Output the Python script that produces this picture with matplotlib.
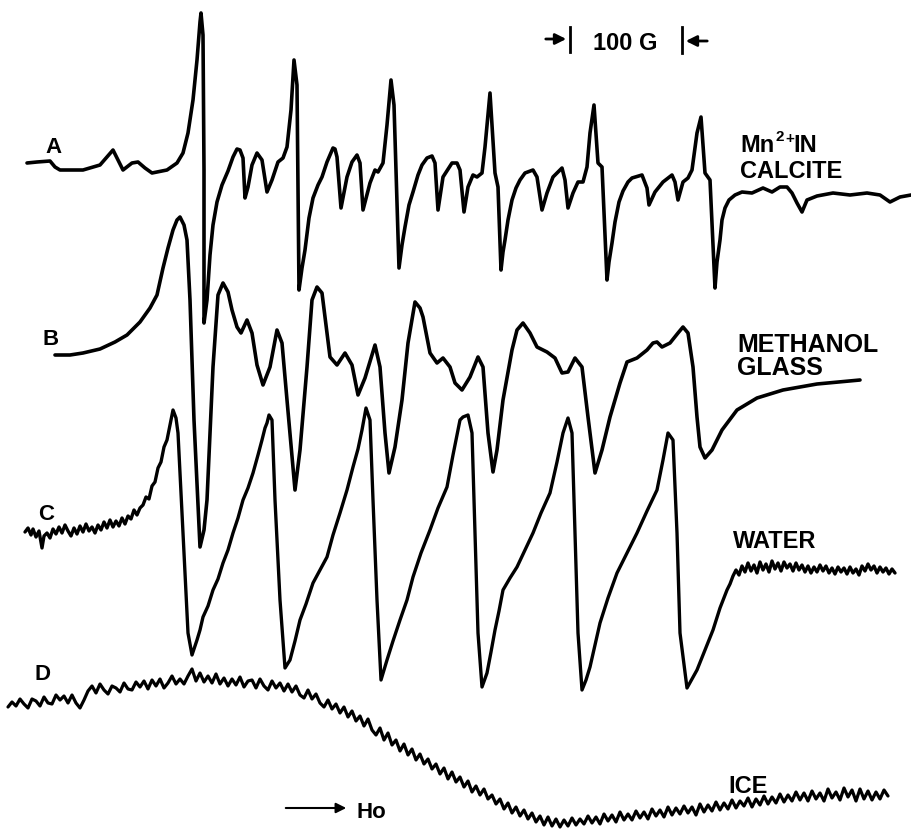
import matplotlib
matplotlib.use("Agg")
import matplotlib.pyplot as plt

# ---- Trace A: Mn2+ in calcite (pixel-read positions of the recorder trace) ----
A_x = [27,37,50,55,60,83,100,107,113,118,123,132,138,145,152,167,177,183,188,193,197,200,201,203,204,204,
       207,210,213,217,222,228,233,237,240,243,245,248,252,257,262,267,272,278,283,287,291,294,297,299,
       302,305,309,313,318,322,327,333,335,337,341,347,352,357,360,363,370,375,378,383,387,391,394,399,
       402,405,409,413,418,422,427,432,435,438,443,452,457,460,464,468,473,477,482,485,490,493,495,498,501,
       503,505,508,512,516,520,525,533,537,542,547,553,562,565,568,573,578,583,587,590,594,598,602,607,
       609,612,615,619,623,628,632,642,647,649,655,663,672,675,678,683,688,692,697,701,705,710,715,
       717,720,722,725,729,735,742,752,763,772,780,787,792,797,802,807,817,833,850,867,880,890,900,911]
A_y = [163,162,161,167,170,170,165,157,150,160,170,163,162,168,173,170,163,153,133,100,60,22,13,35,170,323,
       300,255,225,202,185,171,157,149,150,158,198,187,165,153,160,192,180,162,158,147,110,60,85,290,
       268,250,218,198,185,177,162,148,149,157,208,177,162,155,163,210,183,170,172,163,125,80,105,268,
       245,227,205,192,175,165,158,156,163,210,177,163,163,170,212,187,175,177,173,147,93,140,173,187,270,
       252,240,220,200,188,180,173,170,177,210,193,177,168,180,208,193,182,182,167,133,105,163,167,280,
       262,243,222,202,191,182,178,175,188,205,192,182,175,182,200,182,178,170,133,117,173,180,288,
       262,240,220,208,200,195,192,193,188,192,187,187,193,203,212,200,196,193,195,193,195,202,197,195]

# ---- Trace B: methanol glass ----
B_x = [55,70,83,100,115,127,140,150,157,163,168,173,177,180,184,187,190,194,200,204,207,213,218,223,228,232,237,241,247,252,257,263,270,277,282,287,295,300,307,312,317,322,327,330,337,345,352,358,365,375,380,385,389,395,402,408,415,420,423,430,437,443,450,455,462,470,478,483,488,493,497,503,512,517,523,530,537,547,555,562,568,575,582,588,595,602,610,620,627,637,647,653,657,662,670,678,683,688,693,697,700,705,712,722,737,757,783,817,860]
B_y = [355,355,353,349,342,335,322,308,295,268,248,230,220,217,225,240,300,420,547,530,500,367,295,283,292,310,327,333,320,333,365,385,367,330,343,400,490,450,367,300,287,293,333,357,365,353,365,395,378,345,367,433,473,447,400,343,302,308,317,353,363,358,367,383,390,377,357,367,433,472,450,400,350,330,323,333,347,352,358,373,372,358,367,417,473,450,417,383,362,358,350,343,342,347,343,333,327,333,367,417,447,458,450,430,410,398,390,384,380]

# ---- Trace C: water ----
C_x = [25,28,31,33,36,39,42,44,47,50,53,56,59,62,65,68,71,74,77,80,83,86,89,92,95,98,101,104,107,110,113,116,119,122,125,128,131,134,137,140,143,146,149,152,155,158,161,164,167,170,173,
       176,178,183,188,192,197,200,203,208,213,218,223,228,233,238,243,248,253,258,262,265,267,269,272,275,280,285,290,295,300,306,313,320,327,333,340,347,353,358,362,366,370,373,377,381,387,393,400,407,413,421,430,438,447,453,460,463,468,472,475,478,482,487,491,495,499,503,510,517,525,533,541,550,557,563,568,572,575,578,582,586,590,595,600,608,617,627,637,647,657,663,668,673,677,680,687,692,697,705,713,720,727,730,733,
       736,739,742,745,748,751,754,757,760,763,766,769,772,775,778,781,784,787,790,793,796,799,802,805,808,811,814,817,820,823,826,829,832,835,838,841,844,847,850,853,856,859,862,865,868,871,874,877,880,883,886,889,892,895]
C_y = [532,528,535,529,537,531,548,536,533,538,529,534,527,533,525,531,536,528,534,526,532,524,531,527,533,525,530,522,528,520,527,521,526,518,524,516,519,510,515,508,505,497,499,486,482,468,462,447,440,425,410,
       418,433,533,633,655,640,630,617,606,590,579,563,550,533,518,500,488,473,455,440,428,423,415,420,500,600,668,660,641,620,604,583,570,557,535,513,490,467,449,430,408,420,500,600,680,660,641,620,600,577,553,530,508,487,455,420,417,415,433,533,633,687,673,652,630,611,590,578,567,550,533,513,493,462,433,418,433,533,633,690,680,667,645,623,598,573,553,533,511,490,460,433,440,533,633,688,679,670,650,630,608,590,584,576,
       570,575,566,572,563,571,565,573,562,570,564,572,561,569,563,571,562,568,564,571,563,570,565,572,566,573,567,572,565,571,566,573,568,574,567,572,568,574,567,573,569,575,566,571,564,570,566,573,567,572,568,574,569,573]

# ---- Trace D: ice ----
D_x = list(range(8, 892, 4))
D_y = [707,702,706,699,704,708,699,701,706,697,
       703,704,695,700,696,703,695,703,708,700,
       691,686,693,684,690,694,686,688,692,683,
       689,690,682,687,681,689,680,686,679,688,
       683,676,684,679,684,676,669,681,673,682,
       676,683,674,684,678,686,679,685,677,687,
       681,680,688,679,686,690,681,688,683,691,
       684,692,686,695,698,690,699,694,703,707,
       700,709,704,713,707,717,711,721,716,726,
       719,730,735,728,740,733,745,740,751,744,
       755,749,760,754,764,759,769,764,774,768,
       779,772,782,777,787,781,792,786,795,789,
       799,795,804,799,809,803,813,807,816,810,
       819,813,822,816,825,817,826,819,827,820,
       826,818,825,819,824,816,823,817,824,814,
       821,815,822,812,820,814,820,811,818,812,
       819,809,816,810,817,807,815,808,814,806,
       813,807,815,804,812,805,811,802,810,803,
       809,800,808,801,806,798,807,799,805,796,
       804,797,803,794,802,795,801,792,800,793,
       801,791,799,793,801,789,798,792,800,788,
       797,790,801,789,799,791,800,792,799,790,
       796]

trace_letters = ["A", "B", "C", "D"]
letter_pos = [(45, 153), (43, 345), (38, 520), (35, 680)]

FONT = "Liberation Sans"

fig = plt.figure(figsize=(9.11, 8.34), dpi=100)
ax = fig.add_axes([0, 0, 1, 1])
ax.set_xlim(0, 911)
ax.set_ylim(834, 0)
ax.axis("off")

kw = dict(color="black", solid_joinstyle="round", solid_capstyle="round")
ax.plot(A_x, A_y, lw=2.6, **kw)
ax.plot(B_x, B_y, lw=2.6, **kw)
ax.plot(C_x, C_y, lw=2.4, **kw)
ax.plot(D_x, D_y, lw=2.3, **kw)

for lab, (x, y) in zip(trace_letters, letter_pos):
    ax.text(x, y, lab, fontsize=16, fontweight="bold", family=FONT, va="baseline", ha="left")

tk = dict(fontsize=17, fontweight="bold", family=FONT, va="baseline", ha="left")
tk18 = dict(tk, fontsize=18)
ax.text(740, 152, "Mn", **tk)
ax.text(775, 141, "2", fontsize=11, fontweight="bold", family=FONT, va="baseline")
ax.text(785, 143, "+", fontsize=11, fontweight="bold", family=FONT, va="baseline")
ax.text(793, 152, "IN", **tk)
ax.text(740, 178, "CALCITE", **tk)
ax.text(737, 352, "METHANOL", **tk18)
ax.text(737, 375, "GLASS", **tk18)
ax.text(733, 548, "WATER", **tk)
ax.text(728, 793, "ICE", **tk)
ax.text(593, 50, "100 G", **tk)
ax.text(357, 818, "Ho", fontsize=16, fontweight="bold", family=FONT, va="baseline", ha="left")

# scale bar (100 G)
ax.plot([570, 570], [27, 52], color="black", lw=2.0)
ax.plot([682, 682], [27, 53], color="black", lw=2.0)
ax.annotate("", xy=(569, 39), xytext=(543, 39),
            arrowprops=dict(arrowstyle="-|>", lw=2.0, color="black", mutation_scale=16))
ax.annotate("", xy=(683, 41), xytext=(710, 41),
            arrowprops=dict(arrowstyle="-|>", lw=2.0, color="black", mutation_scale=16))
# field direction arrow
ax.annotate("", xy=(349, 808), xytext=(283, 808),
            arrowprops=dict(arrowstyle="-|>", lw=1.5, color="black", mutation_scale=15))

fig.savefig("out.png", dpi=100)
